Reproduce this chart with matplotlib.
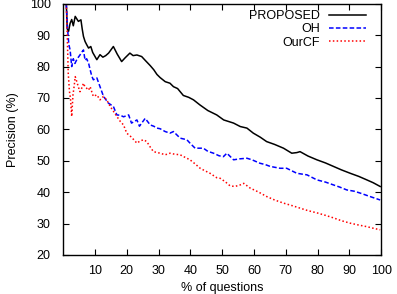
import matplotlib
matplotlib.use('Agg')
import matplotlib.pyplot as plt

plt.rcParams['font.family'] = ['Liberation Sans', 'DejaVu Sans']

# PROPOSED (black, solid)
prop_x = [1.0, 1.3, 1.7, 2.2, 2.7, 3.2, 3.8, 4.3, 4.8, 5.6, 6.0, 6.4, 6.9, 7.4, 8.0, 8.7, 9.3,
          10.6, 11.6, 12.5, 13.4, 14.3, 15.8, 17.0, 18.4, 19.5, 21.0, 22.0, 23.2, 24.7, 25.8,
          27.4, 28.5, 29.5, 30.5, 32.1, 33.6, 34.7, 36.0, 37.8, 39.5, 41.0, 43.0, 45.5, 48.3,
          50.5, 53.6, 55.7, 57.8, 59.8, 62.0, 64.0, 66.5, 69.3, 71.9, 73.5, 74.5, 77.0, 79.8,
          82.5, 85.0, 87.5, 90.3, 93.0, 95.5, 97.5, 99.7]
prop_y = [100.0, 92.0, 91.2, 93.8, 95.0, 93.0, 96.0, 95.2, 94.4, 94.9, 92.0, 89.6, 88.0, 87.0,
          85.9, 86.4, 84.5, 82.2, 83.8, 83.0, 83.5, 84.3, 86.4, 84.0, 81.6, 82.8, 84.3, 83.5,
          83.7, 83.2, 82.0, 80.3, 79.0, 77.5, 76.5, 75.2, 74.7, 73.6, 73.0, 70.8, 70.2, 69.4,
          67.8, 66.0, 64.6, 63.0, 62.0, 60.9, 60.4, 58.8, 57.5, 56.1, 55.2, 54.0, 52.4, 52.6,
          52.9, 51.5, 50.3, 49.3, 48.2, 47.1, 46.0, 45.0, 43.9, 43.0, 41.8]

# OH (blue, dashed)
oh_x = [1.0, 1.4, 1.8, 2.2, 2.7, 3.2, 3.7, 4.3, 4.8, 5.3, 5.8, 6.4, 6.9, 7.4, 8.0, 8.5, 9.0,
        9.5, 10.6, 11.6, 12.7, 14.2, 15.8, 16.9, 18.0, 19.0, 20.6, 21.5, 23.2, 24.0, 25.8,
        27.4, 28.5, 29.5, 30.5, 32.1, 33.6, 34.7, 36.8, 38.9, 40.0, 41.5, 43.1, 44.1, 45.5,
        47.3, 49.0, 50.4, 51.5, 53.6, 55.5, 57.8, 59.4, 61.9, 63.5, 65.1, 68.2, 70.3, 73.5,
        76.7, 79.8, 82.5, 85.0, 87.0, 89.2, 91.5, 93.4, 96.5, 99.7]
oh_y = [100.0, 92.0, 87.0, 85.3, 80.0, 82.5, 81.0, 82.2, 83.0, 83.7, 84.5, 85.3, 82.0, 82.5,
        81.1, 79.0, 77.0, 75.8, 76.4, 73.6, 70.5, 68.4, 67.3, 64.6, 64.5, 64.0, 64.6, 62.0,
        63.0, 61.0, 63.5, 61.4, 61.0, 60.4, 60.2, 59.3, 58.8, 59.3, 57.2, 56.7, 55.5, 54.0,
        54.0, 54.0, 53.0, 52.4, 51.6, 51.3, 52.4, 50.3, 50.6, 50.8, 50.3, 49.2, 48.8, 48.2,
        47.6, 47.6, 46.0, 45.5, 43.9, 43.2, 42.3, 41.6, 40.7, 40.3, 39.7, 38.6, 37.5]

# OurCF (red, dotted)
cf_x = [1.0, 1.3, 1.6, 2.0, 2.3, 2.7, 3.1, 3.5, 3.8, 4.3, 4.8, 5.3, 5.8, 6.4, 6.9, 7.4, 8.0,
        8.5, 9.0, 9.5, 10.6, 11.6, 12.7, 13.7, 14.8, 15.8, 16.9, 18.0, 19.0, 20.0, 21.5,
        23.2, 24.2, 25.3, 26.3, 27.3, 28.4, 30.5, 32.1, 33.6, 35.0, 36.8, 38.5, 39.9, 41.5,
        43.1, 44.6, 46.2, 48.3, 49.4, 51.0, 52.5, 54.0, 55.7, 56.8, 58.8, 61.5, 64.0, 66.5,
        69.3, 72.0, 74.5, 77.0, 79.8, 82.5, 85.0, 87.5, 90.3, 93.0, 95.5, 97.5, 99.7]
cf_y = [100.0, 90.0, 78.0, 72.0, 70.0, 64.1, 71.0, 74.0, 76.8, 75.2, 73.5, 72.0, 73.0, 74.7,
        73.5, 73.1, 72.5, 73.6, 72.0, 70.5, 71.0, 69.4, 70.5, 69.4, 67.3, 65.8, 64.1, 62.5,
        61.4, 58.8, 57.5, 55.6, 56.3, 56.7, 56.1, 54.5, 52.9, 52.4, 51.9, 52.4, 52.1, 51.9,
        51.0, 50.3, 49.0, 47.6, 46.8, 46.0, 44.6, 44.4, 43.3, 42.0, 41.8, 42.3, 42.8, 41.3,
        40.0, 38.6, 37.5, 36.5, 35.7, 34.9, 34.1, 33.4, 32.6, 31.8, 30.9, 30.1, 29.5, 29.0,
        28.5, 28.0]

x_ticks = [10, 20, 30, 40, 50, 60, 70, 80, 90, 100]
y_ticks = [20, 30, 40, 50, 60, 70, 80, 90, 100]

fig = plt.figure(figsize=(3.97, 2.94), dpi=100)
ax = fig.add_axes([0.159, 0.133, 0.801, 0.854])

ax.plot(prop_x, prop_y, color='black', lw=1.1, label='PROPOSED')
ax.plot(oh_x, oh_y, color='#0000ff', lw=1.1, ls=(0, (3, 1.5)), label='OH')
ax.plot(cf_x, cf_y, color='#ff0000', lw=1.1, ls=(0, (1, 1.5)), label='OurCF')

ax.set_xlim(0, 100)
ax.set_ylim(20, 100)
ax.set_xticks(x_ticks)
ax.set_yticks(y_ticks)
ax.tick_params(direction='in', top=True, right=True, labelsize=9, length=4, width=0.8)
ax.tick_params(axis='x', pad=7)
ax.tick_params(axis='y', pad=9)
for s in ax.spines.values():
    s.set_linewidth(1.0)

ax.set_xlabel('% of questions', fontsize=9, labelpad=4)
ax.set_ylabel('Precision (%)', fontsize=9, labelpad=8)

ax.legend(loc='upper right', frameon=False, markerfirst=False, fontsize=9,
          handlelength=3.0, handletextpad=0.7, labelspacing=0.1,
          borderpad=0, borderaxespad=0, bbox_to_anchor=(0.953, 0.975))

fig.savefig('out.png', dpi=100)
